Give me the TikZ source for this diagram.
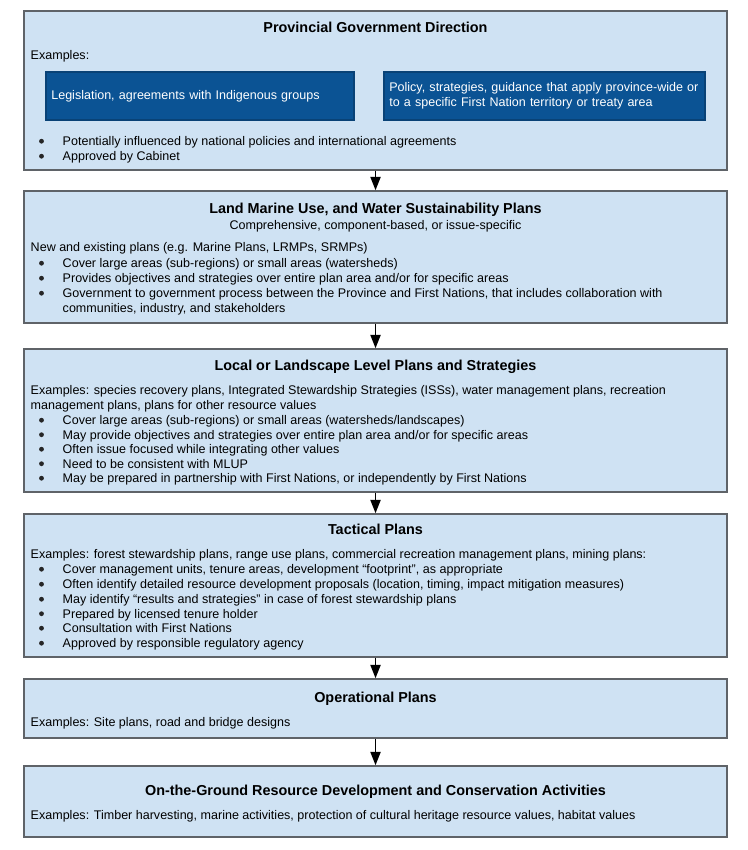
\documentclass[tikz,border=0pt]{standalone}
\usepackage{fontspec}
\setmainfont{Liberation Sans}
\usetikzlibrary{arrows.meta, positioning}
\definecolor{clight}{HTML}{CFE2F3}
\definecolor{cdark}{HTML}{0B5394}
\definecolor{cgrey}{HTML}{5F6368}
\tikzset{
  every picture/.style={font=\fontsize{9.4}{11.1}\selectfont, line width=1.1pt},
  panel/.style={draw=cgrey, fill=clight, minimum width=527.25pt, minimum height=#1, inner sep=0pt},
  pick/.style={draw=cdark!80!black, fill=cdark, text=white, align=left, inner xsep=4pt, inner ysep=5pt, minimum height=36pt, text width=#1},
  arrow/.style={-{Triangle[length=10pt, width=7.5pt]}, draw=black, line width=1.4pt},
  head/.style={font=\fontsize{10.8}{13}\selectfont\bfseries, anchor=base},
  txt/.style={anchor=base west, inner sep=0pt},
  dot/.style={circle, fill=black!85, inner sep=0pt, minimum size=3.6pt},
}

\begin{document}
\begin{tikzpicture}[x=0.75pt, y=-0.75pt]
  \newcommand{\bul}[3]{\node[dot] (#1d) at (41.5,#2-4.3) {}; \node[txt] (#1) at (62,#2) {#3};}
  \useasboundingbox (0,0) rectangle (747,850);
  % provincial direction
  \node[panel=119.25pt] (prov) at (375.5,90.5) {};
  \node[head] (provh) at (375.5,32) {Provincial Government Direction};
  \node[txt] (prove) at (30,59.5) {Examples:};
  \node[pick=223pt] (legis) at (200,96) {Legislation, agreements with Indigenous groups};
  \node[pick=232.75pt] (policy) at (544.5,96) {Policy, strategies, guidance that apply province-wide or\\to a specific First Nation territory or treaty area};
  \bul{prov1}{145.5}{Potentially influenced by national policies and international agreements}
  \bul{prov2}{160.5}{Approved by Cabinet}
  % sustainability plans
  \node[panel=99pt] (lmp) at (375.5,257) {};
  \node[head] (lmph) at (375.5,213) {Land Marine Use, and Water Sustainability Plans};
  \node[anchor=base, inner sep=0pt] (lmps) at (375.5,229.5) {Comprehensive, component-based, or issue-specific};
  \node[txt] (lmpe) at (30,251.5) {New and existing plans (e.g. Marine Plans, LRMPs, SRMPs)};
  \bul{lmp1}{267.5}{Cover large areas (sub-regions) or small areas (watersheds)}
  \bul{lmp2}{282.5}{Provides objectives and strategies over entire plan area and/or for specific areas}
  \bul{lmp3}{297.5}{Government to government process between the Province and First Nations, that includes collaboration with}
  \node[txt] (lmp3b) at (62,312.5) {communities, industry, and stakeholders};
  % local or landscape level
  \node[panel=107.25pt] (local) at (375.5,420.5) {};
  \node[head] (localh) at (375.5,370) {Local or Landscape Level Plans and Strategies};
  \node[txt] (locale) at (30,394.5) {Examples: species recovery plans, Integrated Stewardship Strategies (ISSs), water management plans, recreation};
  \node[txt] (localf) at (30,409.5) {management plans, plans for other resource values};
  \bul{local1}{424.5}{Cover large areas (sub-regions) or small areas (watersheds/landscapes)}
  \bul{local2}{439}{May provide objectives and strategies over entire plan area and/or for specific areas}
  \bul{local3}{453.5}{Often issue focused while integrating other values}
  \bul{local4}{468}{Need to be consistent with MLUP}
  \bul{local5}{482.5}{May be prepared in partnership with First Nations, or independently by First Nations}
  % tactical
  \node[panel=107.25pt] (tact) at (375.5,585.5) {};
  \node[head] (tacth) at (375.5,534) {Tactical Plans};
  \node[txt] (tacte) at (30,558.5) {Examples: forest stewardship plans, range use plans, commercial recreation management plans, mining plans:};
  \bul{tact1}{573.5}{Cover management units, tenure areas, development “footprint”, as appropriate}
  \bul{tact2}{588.5}{Often identify detailed resource development proposals (location, timing, impact mitigation measures)}
  \bul{tact3}{603.5}{May identify “results and strategies” in case of forest stewardship plans}
  \bul{tact4}{618}{Prepared by licensed tenure holder}
  \bul{tact5}{632.5}{Consultation with First Nations}
  \bul{tact6}{647.5}{Approved by responsible regulatory agency}
  % operational
  \node[panel=44.25pt] (oper) at (375.5,708.5) {};
  \node[head] (operh) at (375.5,702) {Operational Plans};
  \node[txt] (opere) at (30,726.5) {Examples: Site plans, road and bridge designs};
  % on the ground
  \node[panel=53.25pt] (ground) at (375.5,801.5) {};
  \node[head] (groundh) at (375.5,795) {On-the-Ground Resource Development and Conservation Activities};
  \node[txt] (grounde) at (30,819.5) {Examples: Timber harvesting, marine activities, protection of cultural heritage resource values, habitat values};
  \foreach \u/\v in {prov/lmp, lmp/local, local/tact, tact/oper, oper/ground} \draw[arrow] (\u) -- (\v);
\end{tikzpicture}
\end{document}
